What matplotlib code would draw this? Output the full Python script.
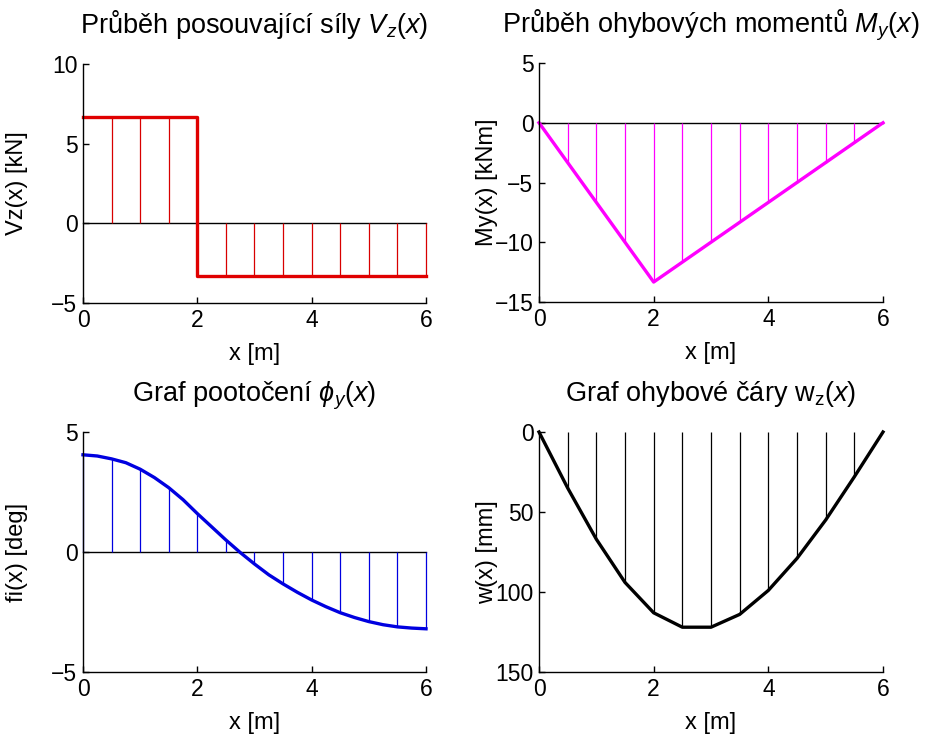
import matplotlib
matplotlib.use("Agg")
import matplotlib.pyplot as plt
import numpy as np

# ---- data ----
x_stem = [0, 0.5, 1, 1.5, 2, 2.5, 3, 3.5, 4, 4.5, 5, 5.5, 6]

# shear force
V_x = [0, 2, 2, 6]
V_y = [6.67, 6.67, -3.33, -3.33]
V_stem = [0, 6.67, 6.67, 6.67, 0, -3.33, -3.33, -3.33, -3.33, -3.33, -3.33, -3.33, -3.33]

# bending moment
M_x = [0, 2, 6]
M_y = [0, -13.33, 0]
M_stem = [0, -3.33, -6.67, -10.0, -13.33, -11.67, -10.0, -8.33, -6.67, -5.0, -3.33, -1.67, 0]

# rotation (deg)
phi_x = [0, 0.25, 0.5, 0.75, 1, 1.25, 1.5, 1.75, 2, 2.25, 2.5, 2.75, 3,
         3.25, 3.5, 3.75, 4, 4.25, 4.5, 4.75, 5, 5.25, 5.5, 5.75, 6]
phi_y = [4.05, 4.0, 3.88, 3.72, 3.45, 3.1, 2.68, 2.18, 1.6, 1.05, 0.5, -0.02, -0.5,
         -0.95, -1.33, -1.68, -2.0, -2.28, -2.53, -2.73, -2.9, -3.03, -3.12, -3.17, -3.2]
phi_stem = [4.05, 3.88, 3.45, 2.68, 1.6, 0.5, -0.5, -1.33, -2.0, -2.53, -2.9, -3.12, -3.2]

# deflection (mm)
w_stem = [0, 35, 67, 94, 113, 122, 122, 114, 99, 79, 55, 28, 0]

# ---- style ----
plt.rcParams['mathtext.fontset'] = 'custom'
plt.rcParams['mathtext.rm'] = 'Liberation Sans'
plt.rcParams['mathtext.it'] = 'Liberation Sans:italic'
plt.rcParams['mathtext.bf'] = 'Liberation Sans:bold'

TITLE_FONT = dict(family=['Liberation Sans', 'DejaVu Sans'], size=19.5)
LABEL_FONT = dict(family=['Liberation Sans', 'DejaVu Sans'], size=17)
TICK_SIZE = 16.5

W, H = 931, 736
fig = plt.figure(figsize=(W / 100, H / 100), dpi=100)

def ax_at(l, t, r, b):
    return fig.add_axes([l / W, 1 - b / H, (r - l) / W, (b - t) / H])

def style(ax, xlim, ylim, yticks, ylab, ylab_x, title):
    ax.set_xlim(*xlim)
    ax.set_ylim(*ylim)
    ax.set_xticks([0, 2, 4, 6])
    ax.set_yticks(yticks)
    for s in ('top', 'right'):
        ax.spines[s].set_visible(False)
    for s in ('left', 'bottom'):
        ax.spines[s].set_linewidth(1.0)
        ax.spines[s].set_color('black')
        ax.spines[s].set_zorder(5)
    ax.tick_params(direction='in', length=4, width=1.0, pad=4, labelsize=TICK_SIZE)
    for lab in ax.get_xticklabels() + ax.get_yticklabels():
        lab.set_family('Liberation Sans')
    ax.set_xlabel('x [m]', **LABEL_FONT, labelpad=8)
    ax.set_ylabel(ylab, **LABEL_FONT)
    ax.yaxis.set_label_coords(ylab_x, 0.5)
    ax.set_title(title, **TITLE_FONT, pad=22)

main_lw = 2.4
stem_lw = 0.9

# Top-left: shear force
ax1 = ax_at(83, 64, 426, 303)
ax1.plot([0, 6], [0, 0], color='black', lw=1.0, clip_on=False)
ax1.vlines(x_stem, 0, V_stem, color='#d80000', lw=stem_lw, clip_on=False)
ax1.plot(V_x, V_y, color='#e00000', lw=main_lw, clip_on=False)
style(ax1, (0, 6), (-5, 10), [-5, 0, 5, 10], 'Vz(x) [kN]', -0.16,
      'Průběh posouvající síly $V_z(x)$')

# Top-right: bending moment
ax2 = ax_at(539, 63, 883, 302)
ax2.plot([0, 6], [0, 0], color='black', lw=1.0, clip_on=False)
ax2.vlines(x_stem, 0, M_stem, color='#ff00ff', lw=stem_lw, clip_on=False)
ax2.plot(M_x, M_y, color='#ff00ff', lw=main_lw, clip_on=False)
style(ax2, (0, 6), (-15, 5), [-15, -10, -5, 0, 5], 'My(x) [kNm]', -0.12,
      'Průběh ohybových momentů $M_y(x)$')

# Bottom-left: rotation
ax3 = ax_at(83, 432, 426, 672)
ax3.plot([0, 6], [0, 0], color='black', lw=1.0, clip_on=False)
ax3.vlines(x_stem, 0, phi_stem, color='#0000e0', lw=stem_lw, clip_on=False)
ax3.plot(phi_x, phi_y, color='#0000e0', lw=main_lw, clip_on=False)
style(ax3, (0, 6), (-5, 5), [-5, 0, 5], 'fi(x) [deg]', -0.16,
      'Graf pootočení $\\phi_y(x)$')

# Bottom-right: deflection
ax4 = ax_at(539, 432, 883, 672)
ax4.vlines(x_stem, 0, w_stem, color='black', lw=stem_lw, clip_on=False)
ax4.plot(x_stem, w_stem, color='black', lw=main_lw, clip_on=False)
style(ax4, (0, 6), (150, 0), [0, 50, 100, 150], 'w(x) [mm]', -0.12,
      'Graf ohybové čáry $\\mathrm{w_z}(x)$')

fig.savefig('out.png', dpi=100)
